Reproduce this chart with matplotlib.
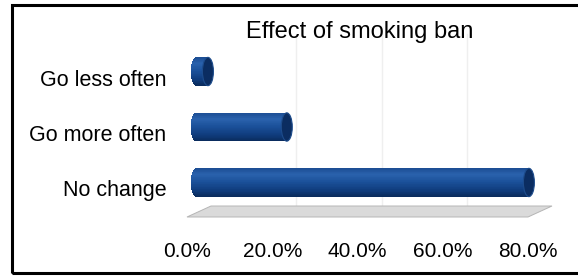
import matplotlib.pyplot as plt
import numpy as np
from matplotlib.patches import Ellipse, Polygon, Rectangle
from matplotlib.transforms import ScaledTranslation
from matplotlib.colors import LinearSegmentedColormap

plt.rcParams['font.family'] = ['Liberation Sans', 'DejaVu Sans']

# data
categories = ['No change', 'Go more often', 'Go less often']
values = [78.1, 21.3, 2.8]
ticks = [0, 20, 40, 60, 80]
tick_labels = ['%.1f%%' % t for t in ticks]
title = 'Effect of smoking ban'

W, H, DPI = 578, 277, 100
fig = plt.figure(figsize=(W / DPI, H / DPI), dpi=DPI)

# axes box in pixels (front plane of the pseudo 3D frame)
left_px, right_px, top_px, bottom_px = 187, 528, 45, 217
ax = fig.add_axes([left_px / W, (H - bottom_px) / H,
                   (right_px - left_px) / W, (bottom_px - top_px) / H])
xmax = ticks[-1]
ylo, yhi = -0.514, 2.586
px_x = (right_px - left_px) / xmax
px_y = (bottom_px - top_px) / (yhi - ylo)

# depth offsets (pixels)
depth_dx, depth_dy = 24, 11
bar_dx, bar_dy = 9, 6
bar_trans = ax.transData + ScaledTranslation(bar_dx / DPI, bar_dy / DPI, fig.dpi_scale_trans)
back_trans = ax.transData + ScaledTranslation(depth_dx / DPI, depth_dy / DPI, fig.dpi_scale_trans)

# floor
ddx, ddy = depth_dx / px_x, depth_dy / px_y
floor = Polygon([[0, ylo], [xmax, ylo], [xmax + ddx, ylo + ddy], [ddx, ylo + ddy]],
                closed=True, facecolor='#dadada', edgecolor='#b5b5b5', lw=0.7,
                clip_on=False, zorder=1)
ax.add_patch(floor)

# back wall gridlines
for t in ticks[1:-1]:
    ax.plot([t, t], [ylo, yhi], color='#efefef', lw=1, transform=back_trans,
            clip_on=False, zorder=0.5)

# cylinder bars
cmap = LinearSegmentedColormap.from_list('cyl', [
    (0.0, '#1c4d93'), (0.22, '#2a62ad'), (0.5, '#1a4f98'),
    (0.8, '#0f3b7b'), (1.0, '#0a2b5c')])
h = 0.51
rx = 5.5 / px_x
n = 40
for i, v in enumerate(values):
    t = 1 - (2 * np.arange(n) + 1) / n          # top -> bottom
    ys = i + t * h / 2
    lefts = -rx * np.sqrt(1 - t ** 2)
    cols = cmap((1 - t) / 2)
    bars = ax.barh(ys, v - lefts, left=lefts, height=h / n * 1.3,
                   color=cols, linewidth=0, zorder=3)
    for b in bars:
        b.set_transform(bar_trans)
        b.set_clip_on(False)
    cap = Ellipse((v, i), 2 * rx, h, facecolor='#0b2d61', edgecolor='#1d4c8c',
                  lw=0.8, transform=bar_trans, zorder=4, clip_on=False)
    ax.add_patch(cap)

ax.set_xlim(0, xmax)
ax.set_ylim(ylo, yhi)
ax.set_xticks(ticks, tick_labels)
ax.set_yticks(range(len(categories)), categories)
ax.tick_params(axis='x', length=0, pad=18, labelsize=15)
ax.tick_params(axis='y', length=0, pad=15, labelsize=15.5)
for s in ax.spines.values():
    s.set_visible(False)
ax.patch.set_alpha(0)

fig.text(360 / W, 1 - 32 / H, title, ha='center', va='center', fontsize=17)

# outer border
fig.patches.append(Rectangle((12.5 / W, (H - 272.5) / H), 1.0, (272.5 - 4.5) / H,
                             transform=fig.transFigure, fill=False,
                             edgecolor='black', lw=2.2, zorder=10))

fig.savefig('out.png', dpi=DPI)
